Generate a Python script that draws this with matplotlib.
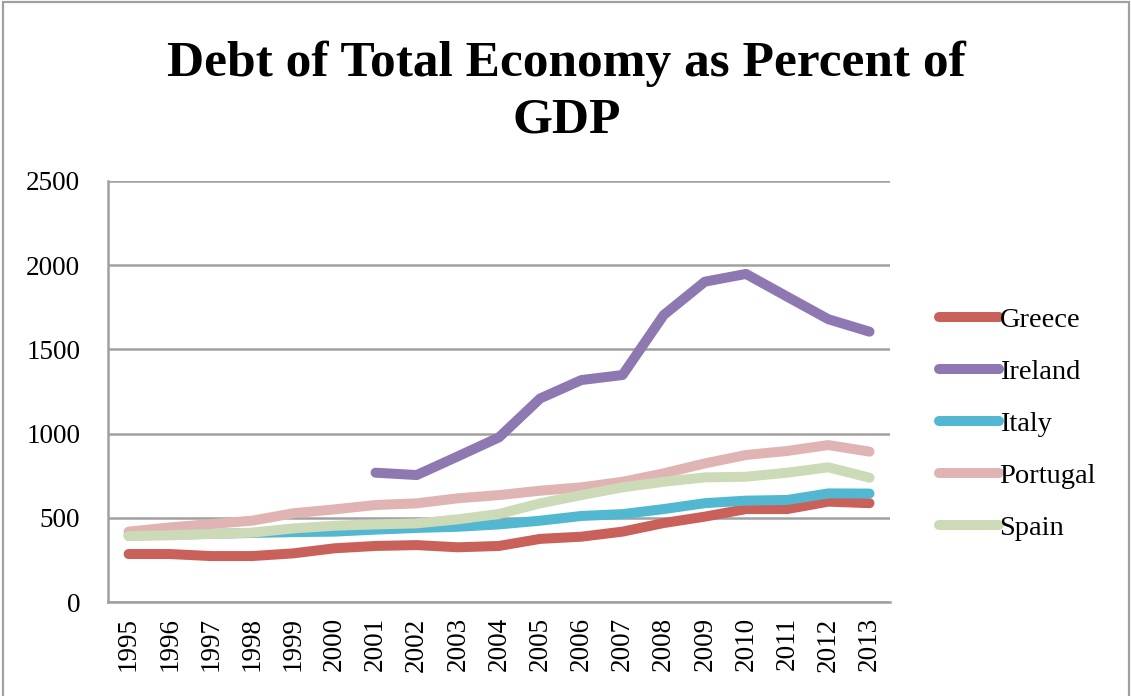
import matplotlib.pyplot as plt
from matplotlib.patches import Rectangle
import numpy as np

# debt of total economy, percent of GDP
years = list(range(1995, 2014))
greece = [285, 285, 273, 273, 289, 319, 333, 338, 325, 333, 375, 388, 418, 469, 507, 552, 552, 596, 587]
ireland = [np.nan] * 6 + [768, 754, 865, 978, 1209, 1318, 1348, 1704, 1902, 1948, 1813, 1679, 1605]
italy = [395, 400, 405, 410, 415, 418, 430, 440, 447, 461, 483, 511, 522, 552, 587, 602, 606, 645, 644]
portugal = [418, 443, 463, 483, 527, 550, 576, 586, 616, 635, 661, 681, 714, 764, 823, 873, 897, 932, 893]
spain = [392, 396, 404, 412, 437, 453, 461, 467, 491, 523, 586, 635, 681, 714, 740, 744, 768, 800, 738]

series = [("Greece", greece, "#C9605A"),
          ("Ireland", ireland, "#8E78B1"),
          ("Italy", italy, "#52B7D0"),
          ("Portugal", portugal, "#DFB4B3"),
          ("Spain", spain, "#CCDAB8")]

plt.rcParams['font.family'] = ['Liberation Serif', 'DejaVu Serif']

fig = plt.figure(figsize=(11.31, 6.96), dpi=100)
ax = fig.add_axes([0.0955, 0.135, 0.6915, 0.605])

x = np.arange(len(years))
for name, vals, col in series:
    ax.plot(x, vals, color=col, lw=7.2, solid_capstyle='round', solid_joinstyle='round', label=name)

ax.set_xlim(-0.5, len(years) - 0.5)
ax.set_ylim(0, 2500)
ax.set_yticks(range(0, 2501, 500))
ax.set_xticks(x)
ax.set_xticklabels([str(y) for y in years], rotation=90, fontsize=19.5)
ax.tick_params(axis='y', labelsize=19.5, length=0, pad=20)
ax.tick_params(axis='x', length=0, pad=11)
ax.yaxis.grid(True, color="#A0A0A0", lw=1.8)
ax.set_axisbelow(True)
for s in ['top', 'right']:
    ax.spines[s].set_visible(False)
for s in ['left', 'bottom']:
    ax.spines[s].set_color("#A0A0A0")
    ax.spines[s].set_linewidth(1.8)

leg = ax.legend(loc='center left', bbox_to_anchor=(1.03, 0.423), frameon=False, fontsize=20.5,
                handlelength=2.1, handletextpad=0.02, labelspacing=0.92)

fig.text(0.501, 0.868, "Debt of Total Economy as Percent of\nGDP", ha='center', va='center',
         fontsize=37, fontweight='bold', linespacing=1.28)

# frame round the chart (open at the bottom)
fig.patches.append(Rectangle((0.003, -0.02), 0.995, 1.017, transform=fig.transFigure,
                             fill=False, edgecolor="#A0A0A0", lw=1.6))

plt.savefig("out.png", dpi=100)
